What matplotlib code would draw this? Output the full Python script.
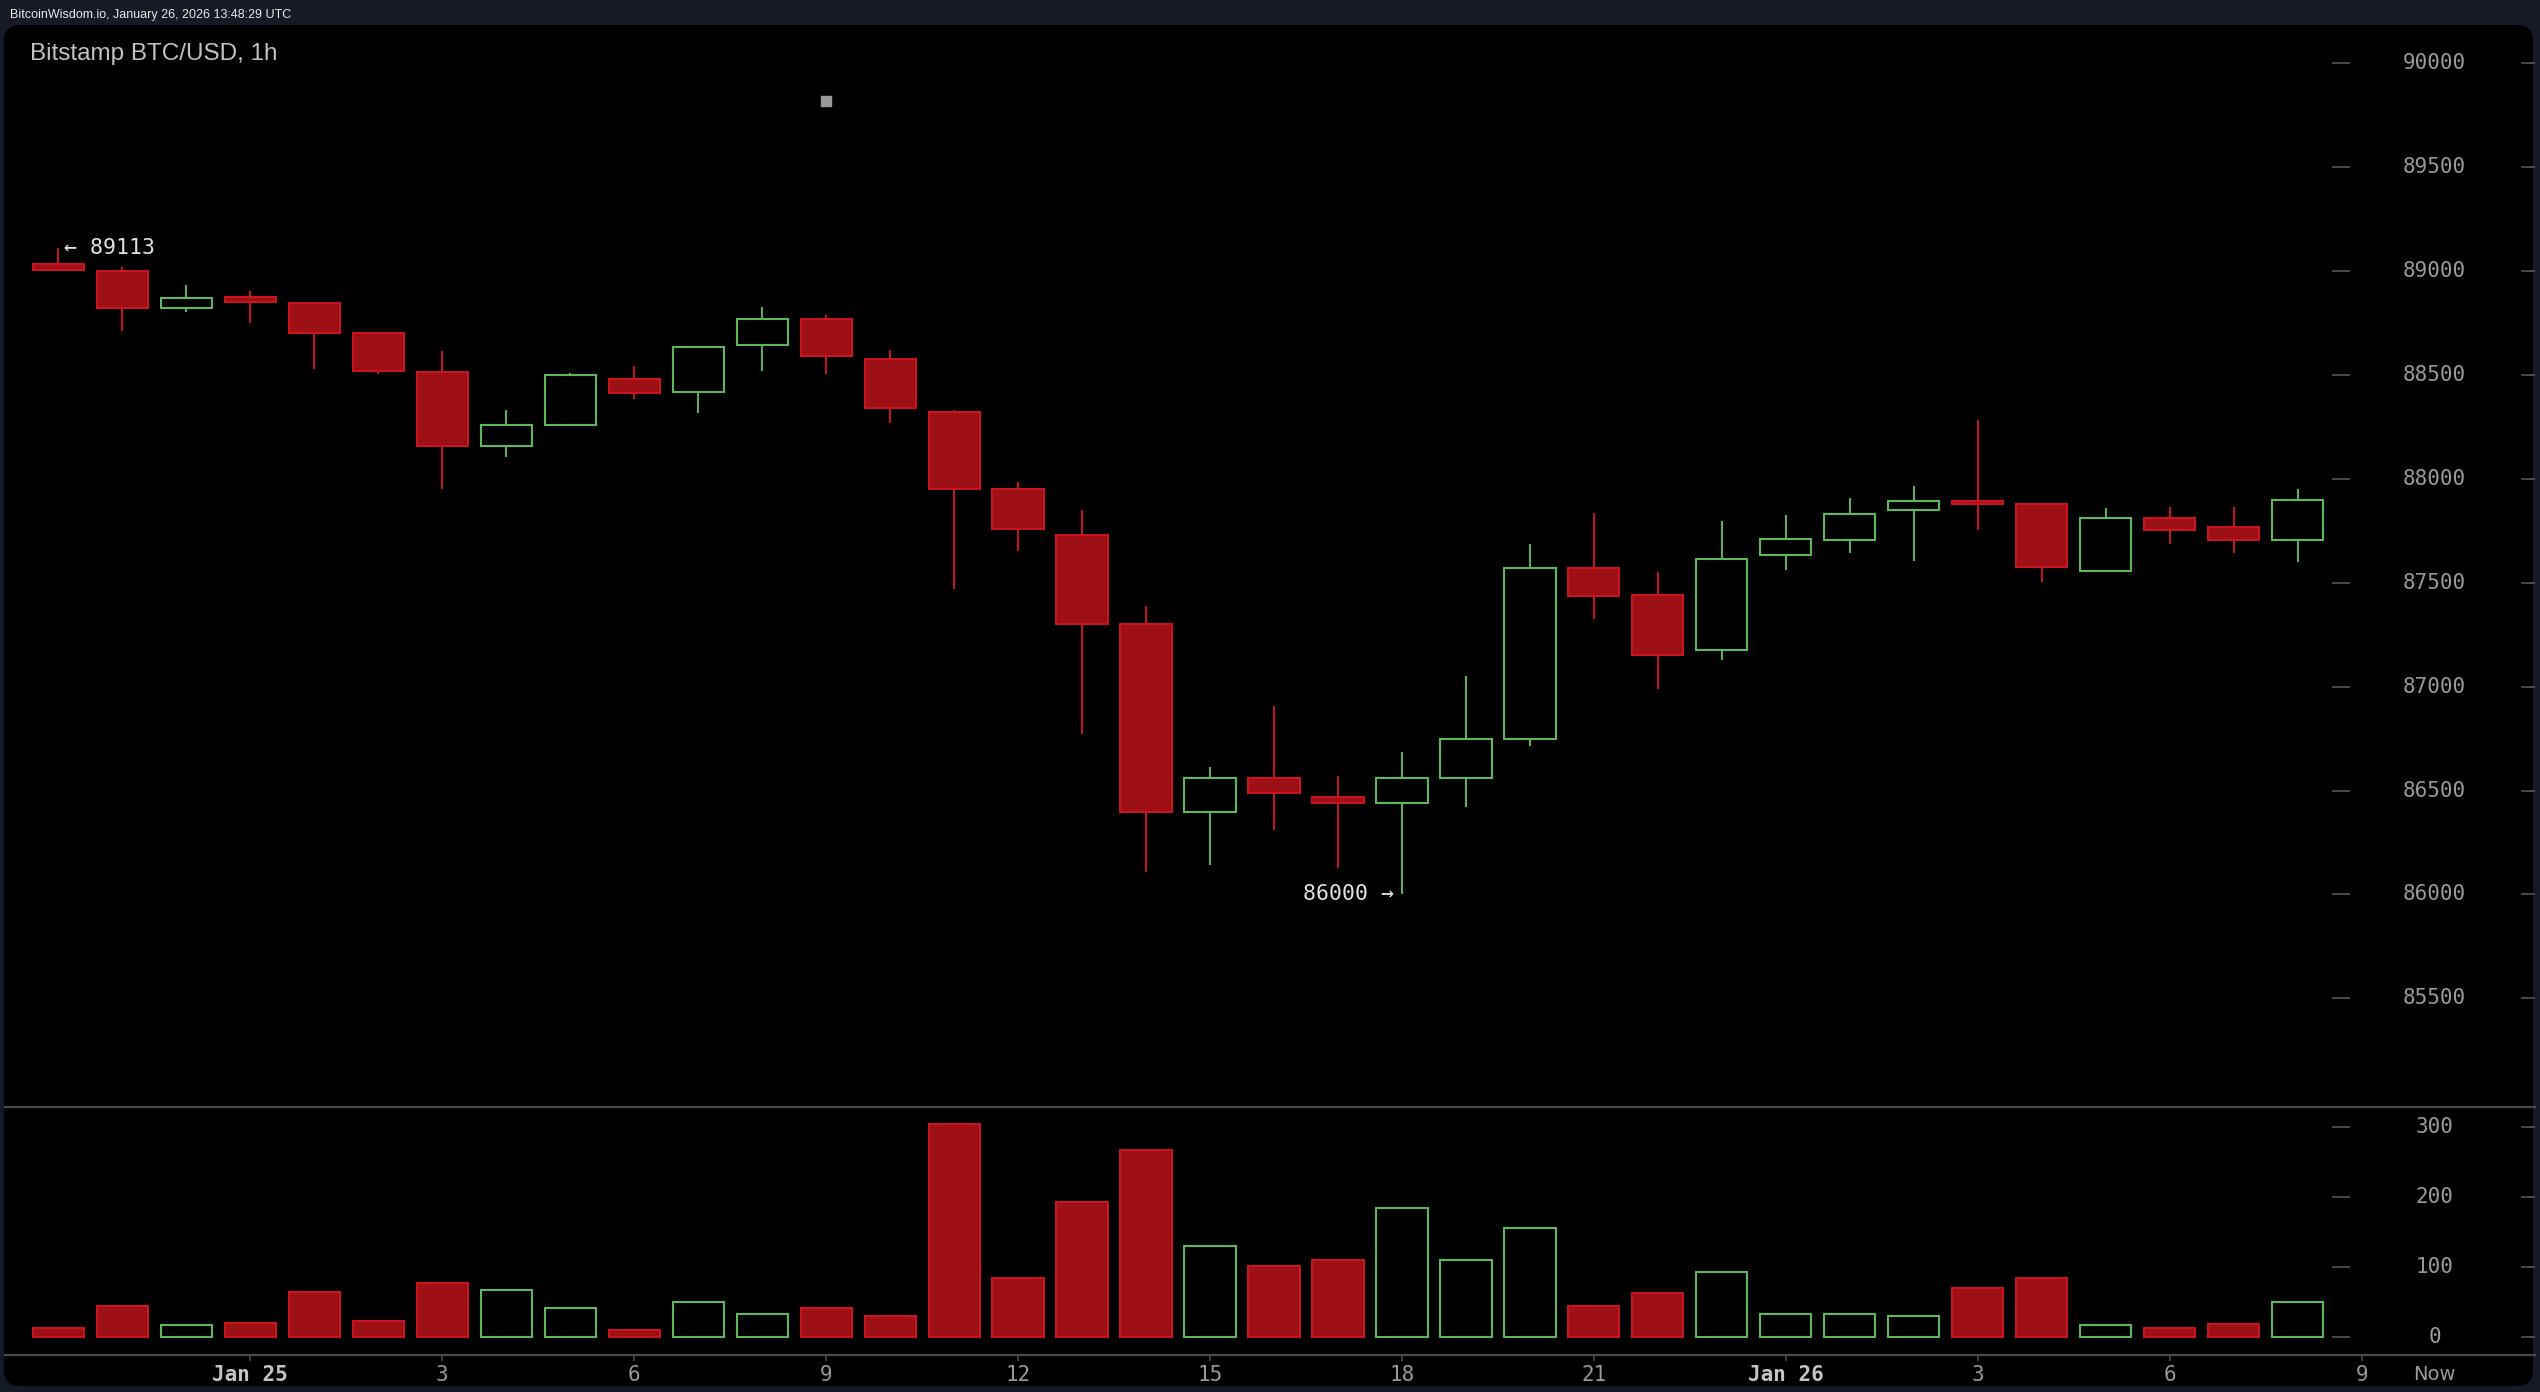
import numpy as np
import matplotlib.pyplot as plt
from matplotlib.patches import Rectangle, FancyBboxPatch

# -----------------------------
# Data: Bitstamp BTC/USD hourly candles, 21:00 Jan 24 -> 08:00 Jan 26
# -----------------------------
OPEN = [89035, 89000, 88820, 88875, 88845, 88700, 88515, 88160, 88260, 88480, 88420, 88645,
        88770, 88575, 88320, 87950, 87730, 87300, 86395, 86560, 86470, 86440, 86560, 86750,
        87570, 87440, 87175, 87635, 87705, 87850, 87895, 87880, 87555, 87810, 87770, 87705]
HIGH = [89113, 89020, 88935, 88905, 88850, 88705, 88615, 88330, 88510, 88545, 88640, 88825,
        88790, 88620, 88330, 87985, 87850, 87390, 86615, 86905, 86570, 86685, 87050, 87685,
        87835, 87550, 87795, 87825, 87910, 87965, 88285, 87885, 87860, 87865, 87865, 87950]
LOW = [89000, 88710, 88805, 88750, 88530, 88505, 87950, 88105, 88255, 88385, 88315, 88520,
       88505, 88270, 87470, 87655, 86770, 86110, 86140, 86310, 86125, 86000, 86420, 86715,
       87325, 86990, 87130, 87560, 87645, 87605, 87755, 87505, 87555, 87685, 87645, 87600]
CLOSE = [89005, 88820, 88870, 88850, 88700, 88520, 88160, 88260, 88500, 88415, 88635, 88770,
         88590, 88340, 87950, 87760, 87300, 86395, 86560, 86490, 86440, 86560, 86750, 87570,
         87435, 87150, 87615, 87710, 87830, 87895, 87880, 87575, 87810, 87755, 87705, 87900]
VOLUME = [14, 45, 17, 20, 65, 23, 77, 68, 42, 11, 51, 34, 42, 31, 304, 85, 193, 267,
          130, 102, 110, 184, 110, 156, 45, 63, 93, 33, 33, 31, 71, 85, 17, 14, 19, 51]

TIME_TICKS = [3, 6, 9, 12, 15, 18, 21, 24, 27, 30, 33, 36]
TIME_LABELS = ["Jan 25", "3", "6", "9", "12", "15", "18", "21", "Jan 26", "3", "6", "9"]
PRICE_TICKS = [85500, 86000, 86500, 87000, 87500, 88000, 88500, 89000, 89500, 90000]
VOL_TICKS = [0, 100, 200, 300]

HIGH_NOTE = 89113
LOW_NOTE = 86000
MARKER_HOUR = 12
MARKER_PRICE = 89820

# -----------------------------
# Style
# -----------------------------
BG = "#161a25"
RED_FILL = "#9c1016"
RED_EDGE = "#c9161e"
GREEN = "#5db85b"
GRID = "#4a4a4a"
LABEL = "#9a9a9a"
MONO = "DejaVu Sans Mono"

W, H = 2540, 1392
fig = plt.figure(figsize=(W / 100, H / 100), dpi=100, facecolor=BG)

# black rounded panel (behind the axes)
panel = FancyBboxPatch((4 / 100, (H - 1386) / 100), 2529 / 100, 1361 / 100,
                       boxstyle="round,pad=0,rounding_size=0.16",
                       transform=fig.dpi_scale_trans, facecolor="black",
                       edgecolor="none", zorder=-5)
fig.patches.append(panel)

def frac(x0, y_top, x1, y_bot):
    return [x0 / W, 1 - y_bot / H, (x1 - x0) / W, (y_bot - y_top) / H]

ax = fig.add_axes(frac(5, 25, 2535, 1107))
axv = fig.add_axes(frac(5, 1107, 2535, 1355), sharex=ax)
for a in (ax, axv):
    a.set_facecolor("none")
    for s in ("top", "left", "right"):
        a.spines[s].set_visible(False)
    a.spines["bottom"].set_color(GRID)
    a.spines["bottom"].set_linewidth(1.6)
    a.set_yticks([])

x = np.arange(len(OPEN))
opens = np.array(OPEN)
closes = np.array(CLOSE)
up = closes >= opens
width = 0.8

# candles
for i in x:
    edge = GREEN if up[i] else RED_EDGE
    face = "black" if up[i] else RED_FILL
    ax.vlines(i, LOW[i], HIGH[i], color=edge, linewidth=1.4, zorder=2)
    lo = min(OPEN[i], CLOSE[i])
    h = max(abs(CLOSE[i] - OPEN[i]), 12)
    ax.add_patch(Rectangle((i - width / 2, lo), width, h, facecolor=face,
                           edgecolor=edge, linewidth=1.5, zorder=3))

# volume
vol_face = ["black" if u else RED_FILL for u in up]
vol_edge = [GREEN if u else RED_EDGE for u in up]
axv.bar(x, VOLUME, width=width, color=vol_face, edgecolor=vol_edge, linewidth=1.5, zorder=3)

XMIN, XMAX = -0.835, 38.71
LABEL_X = 37.14
ax.set_xlim(XMIN, XMAX)
ax.set_ylim(84977, 90184)
axv.set_ylim(-25, 328)

# right-hand price / volume scale (labels sit inside the panel)
for p in PRICE_TICKS:
    ax.text(LABEL_X, p, str(p), ha="center", va="center", fontsize=15,
            family=MONO, color=LABEL)
    ax.plot([35.55, 35.8], [p, p], color=GRID, lw=1.4)
    ax.plot([38.5, XMAX], [p, p], color=GRID, lw=1.4)
for v in VOL_TICKS:
    axv.text(LABEL_X, v, str(v), ha="center", va="center", fontsize=15,
             family=MONO, color=LABEL)
    axv.plot([35.55, 35.8], [v, v], color=GRID, lw=1.4)
    axv.plot([38.5, XMAX], [v, v], color=GRID, lw=1.4)

# annotations of high / low
ax.text(0.08, HIGH_NOTE, "\u2190 " + str(HIGH_NOTE), ha="left", va="center",
        fontsize=15.5, family=MONO, color="#e2e2e2")
ax.text(21 - 0.13, LOW_NOTE, str(LOW_NOTE) + " \u2192", ha="right", va="center",
        fontsize=15.5, family=MONO, color="#e2e2e2")
ax.plot([MARKER_HOUR], [MARKER_PRICE], marker="s", markersize=7,
        color="#9a9a9a", linestyle="none")

# time axis
plt.setp(ax.get_xticklabels(), visible=False)
ax.tick_params(axis="x", length=0)
axv.set_xticks(TIME_TICKS + [LABEL_X])
axv.set_xticklabels(TIME_LABELS + ["Now"])
axv.tick_params(axis="x", direction="out", length=4, width=1.2, color=GRID,
                pad=3, labelsize=15, labelcolor=LABEL)
for lab in axv.get_xticklabels():
    lab.set_family(MONO)
    if lab.get_text().startswith("Jan"):
        lab.set_color("#c4c4c4")
        lab.set_fontweight("bold")
    if lab.get_text() == "Now":
        lab.set_family("DejaVu Sans")
        lab.set_fontsize(14)
axv.get_xticklines()[-2].set_visible(False)

# titles
fig.text(10 / W, 1 - 18 / H, "BitcoinWisdom.io, January 26, 2026 13:48:29 UTC",
         ha="left", va="baseline", fontsize=9, color="#e8e8e8", family="Liberation Sans")
fig.text(30 / W, 1 - 60 / H, "Bitstamp BTC/USD, 1h", ha="left", va="baseline",
         fontsize=17.5, color="#c2c2c2", family="Liberation Sans")

fig.savefig("out.png", dpi=100, facecolor=BG)
